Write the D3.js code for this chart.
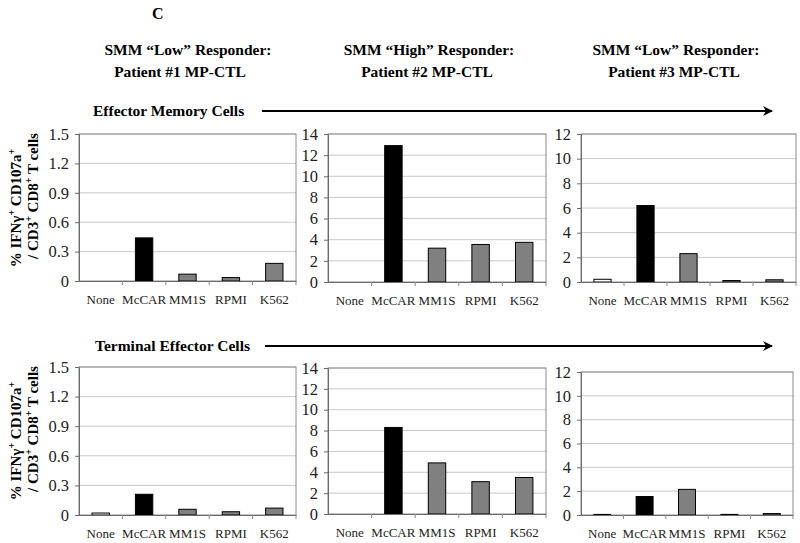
<!DOCTYPE html>
<html><head><meta charset="utf-8">
<script src="https://cdn.jsdelivr.net/npm/d3@7"></script>
<style>
body{margin:0;background:#fff;}
svg{display:block;font-family:"Liberation Serif","Times New Roman",serif;}
</style></head>
<body>
<svg id="chart" width="800" height="543"></svg>
<script>
// ---- data ----
const categories = ["None", "McCAR", "MM1S", "RPMI", "K562"];
const headersLine1 = ["SMM \u201CLow\u201D Responder:", "SMM \u201CHigh\u201D Responder:", "SMM \u201CLow\u201D Responder:"];
const headersLine2 = ["Patient #1 MP-CTL", "Patient #2 MP-CTL", "Patient #3 MP-CTL"];
const rowTitles = ["Effector Memory Cells", "Terminal Effector Cells"];
// Effector memory (top row)
const emPatient1 = [0, 0.44, 0.07, 0.035, 0.18];
const emPatient2 = [0, 12.9, 3.2, 3.55, 3.75];
const emPatient3 = [0.22, 6.2, 2.3, 0.12, 0.18];
// Terminal effector (bottom row)
const tePatient1 = [0.02, 0.21, 0.058, 0.033, 0.07];
const tePatient2 = [0, 8.3, 4.9, 3.1, 3.5];
const tePatient3 = [0.05, 1.55, 2.15, 0.05, 0.12];
// tick labels
const ticksPatient1 = [0, 0.3, 0.6, 0.9, 1.2, 1.5];
const ticksPatient2 = [0, 2, 4, 6, 8, 10, 12, 14];
const ticksPatient3 = [0, 2, 4, 6, 8, 10, 12];
const barColors = {"None": "#ffffff", "McCAR": "#000000", "MM1S": "#808080", "RPMI": "#808080", "K562": "#808080"};

const svg = d3.select("#chart");

// panel layout
const panels = [
  {vals: emPatient1, ticks: ticksPatient1, x0: 79, x1: 296, y0: 134, y1: 281},
  {vals: emPatient2, ticks: ticksPatient2, x0: 328, x1: 546, y0: 134, y1: 282},
  {vals: emPatient3, ticks: ticksPatient3, x0: 581, x1: 796, y0: 134, y1: 282},
  {vals: tePatient1, ticks: ticksPatient1, x0: 79, x1: 296, y0: 367, y1: 515},
  {vals: tePatient2, ticks: ticksPatient2, x0: 328, x1: 546, y0: 368, y1: 514},
  {vals: tePatient3, ticks: ticksPatient3, x0: 581, x1: 793, y0: 372, y1: 515}
];

panels.forEach(p => {
  const x = d3.scaleBand().domain(categories).range([p.x0, p.x1]).paddingInner(0.6).paddingOuter(0.3);
  const xb = d3.scaleBand().domain(categories).range([p.x0, p.x1]);
  const y = d3.scaleLinear().domain([0, d3.max(p.ticks)]).range([p.y1, p.y0]);
  const g = svg.append("g");
  // gridlines
  g.selectAll("line.grid").data(p.ticks.slice(1)).join("line")
    .attr("x1", p.x0).attr("x2", p.x1)
    .attr("y1", d => y(d)).attr("y2", d => y(d))
    .attr("stroke", "#c8c8c8").attr("stroke-width", 1);
  // plot border
  g.append("rect").attr("x", p.x0).attr("y", p.y0).attr("width", p.x1 - p.x0).attr("height", p.y1 - p.y0)
    .attr("fill", "none").attr("stroke", "#8a8a8a").attr("stroke-width", 1);
  // bars
  g.selectAll("rect.bar").data(categories.map((c, i) => ({c, v: p.vals[i]})).filter(d => d.v > 0)).join("rect")
    .attr("x", d => x(d.c)).attr("width", x.bandwidth())
    .attr("y", d => y(d.v)).attr("height", d => y(0) - y(d.v))
    .attr("fill", d => barColors[d.c]).attr("stroke", "#000").attr("stroke-width", 1);
  // y axis
  const ya = g.append("g").attr("transform", `translate(${p.x0},0)`)
    .call(d3.axisLeft(y).tickValues(p.ticks).tickSize(4).tickPadding(6).tickFormat(d => String(d)));
  ya.select(".domain").attr("stroke", "#6a6a6a");
  ya.selectAll(".tick line").attr("stroke", "#6a6a6a");
  ya.selectAll(".tick text").attr("font-family", "Liberation Serif").attr("font-size", 16.5).attr("fill", "#222");
  // x axis (category dividers)
  const xa = g.append("g").attr("transform", `translate(0,${p.y1})`)
    .call(d3.axisBottom(xb).tickSize(0).tickPadding(14));
  xa.select(".domain").attr("stroke", "#6a6a6a");
  xa.selectAll(".tick text").attr("font-family", "Liberation Serif").attr("font-size", 13).attr("fill", "#222");
  g.selectAll("line.div").data(categories).join("line")
    .attr("x1", d => xb(d) + xb.bandwidth()).attr("x2", d => xb(d) + xb.bandwidth())
    .attr("y1", p.y1).attr("y2", p.y1 + 4).attr("stroke", "#8a8a8a");
});

// panel letter
svg.append("text").attr("x", 152).attr("y", 19).attr("font-weight", "bold").attr("font-size", 16).text("C");

// column headers
const headerX = [188, 429, 676];
headerX.forEach((cx, i) => {
  svg.append("text").attr("x", cx).attr("y", 55).attr("text-anchor", "middle")
    .attr("font-weight", "bold").attr("font-size", 15.5).text(headersLine1[i]);
  svg.append("text").attr("x", cx - (i === 0 ? 8 : 2)).attr("y", 77).attr("text-anchor", "middle")
    .attr("font-weight", "bold").attr("font-size", 15.5).text(headersLine2[i]);
});

// row titles with arrows
svg.append("defs").append("marker").attr("id", "arr").attr("viewBox", "0 0 10 10")
  .attr("refX", 9).attr("refY", 5).attr("markerWidth", 5).attr("markerHeight", 5)
  .attr("markerUnits", "strokeWidth").attr("orient", "auto")
  .append("path").attr("d", "M0,0 L10,5 L0,10 L3,5 Z").attr("fill", "#000");
const rowY = [111, 346];
const rowTitleX = [93, 95];
const arrowStart = [262, 265];
rowTitles.forEach((t, i) => {
  svg.append("text").attr("x", rowTitleX[i]).attr("y", rowY[i] + 5).attr("font-weight", "bold")
    .attr("font-size", 15.5).text(t);
  svg.append("line").attr("x1", arrowStart[i]).attr("x2", 772).attr("y1", rowY[i]).attr("y2", rowY[i])
    .attr("stroke", "#000").attr("stroke-width", 2).attr("marker-end", "url(#arr)");
});

// y axis titles
const titleCenters = [208, 441];
titleCenters.forEach(cy => {
  const t1 = svg.append("text").attr("transform", `translate(21,${cy}) rotate(-90)`)
    .attr("text-anchor", "middle").attr("font-weight", "bold").attr("font-size", 15);
  t1.append("tspan").text("% IFN\u03B3");
  t1.append("tspan").attr("dy", -6).attr("font-size", 10).text("+");
  t1.append("tspan").attr("dy", 6).text(" CD107a");
  t1.append("tspan").attr("dy", -6).attr("font-size", 10).text("+");
  const t2 = svg.append("text").attr("transform", `translate(38,${cy - 12}) rotate(-90)`)
    .attr("text-anchor", "middle").attr("font-weight", "bold").attr("font-size", 15);
  t2.append("tspan").text("/ CD3");
  t2.append("tspan").attr("dy", -6).attr("font-size", 10).text("+");
  t2.append("tspan").attr("dy", 6).text(" CD8");
  t2.append("tspan").attr("dy", -6).attr("font-size", 10).text("+");
  t2.append("tspan").attr("dy", 6).text(" T cells");
});
</script>
</body></html>
